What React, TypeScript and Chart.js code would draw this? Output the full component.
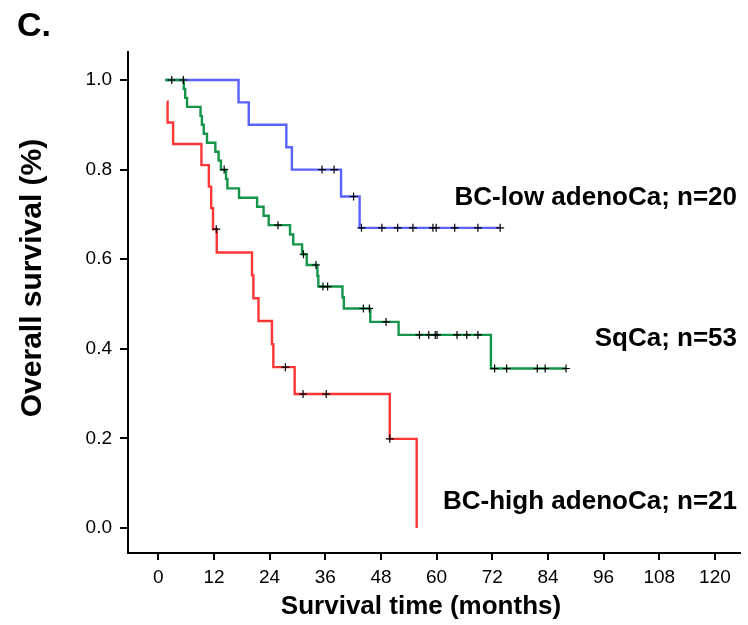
import React, { useEffect, useRef } from "react";
import { Chart, registerables } from "chart.js";

Chart.register(...registerables);

// ---- data (months, survival proportion) ----
const blueTimes = [1.5, 17.3, 19.5, 27.6, 28.8, 39.4, 43.4, 73.7];
const blueSurv = [1.0, 0.95, 0.9, 0.85, 0.8, 0.74, 0.67, 0.67];
const blueCensor = [2.9, 35.3, 37.9, 42.1, 43.8, 48.2, 51.6, 54.9, 59.2, 59.9, 63.9, 68.9, 73.7];

const greenTimes = [1.5, 5.5, 5.8, 6.2, 9.1, 9.4, 9.8, 10.5, 12.3, 13.0, 13.5, 14.6, 14.9, 17.4, 21.3, 22.7, 23.8, 28.4, 29.1, 31.0, 32.0, 34.3, 34.5, 39.7, 40.0, 45.7, 51.8, 71.7, 87.9];
const greenSurv = [1.0, 0.98, 0.96, 0.94, 0.92, 0.9, 0.88, 0.86, 0.84, 0.82, 0.8, 0.779, 0.758, 0.737, 0.717, 0.697, 0.676, 0.655, 0.633, 0.611, 0.587, 0.563, 0.539, 0.515, 0.49, 0.46, 0.431, 0.356, 0.356];
const greenCensor = [5.4, 14.2, 25.8, 31.3, 34.0, 35.5, 36.5, 44.2, 45.5, 49.1, 56.3, 58.3, 59.7, 60.1, 64.4, 66.5, 68.9, 72.5, 75.1, 81.7, 83.4, 87.9];

const redTimes = [1.9, 2.0, 3.2, 9.3, 10.9, 11.4, 11.8, 12.6, 20.2, 20.5, 21.6, 24.5, 24.8, 29.4, 49.9, 55.7];
const redSurv = [0.952, 0.905, 0.857, 0.81, 0.762, 0.714, 0.667, 0.615, 0.564, 0.513, 0.462, 0.41, 0.359, 0.299, 0.199, 0.0];
const redCensor = [12.5, 27.4, 31.2, 36.2, 49.9];

const xTickValues = [0, 12, 24, 36, 48, 60, 72, 84, 96, 108, 120];
const yTickValues = [0, 0.2, 0.4, 0.6, 0.8, 1.0];

const seriesLabels = ["BC-low adenoCa; n=20", "SqCa; n=53", "BC-high adenoCa; n=21"];
const panelLabel = "C.";
const xTitle = "Survival time (months)";
const yTitle = "Overall survival (%)";

const FONT = "'Liberation Sans', Arial, Helvetica, sans-serif";

function steps(times: number[], surv: number[]) {
  return times.map((t, i) => ({ x: t, y: surv[i] }));
}
function survAt(times: number[], surv: number[], t: number) {
  let v = surv[0];
  for (let i = 0; i < times.length; i++) if (times[i] <= t) v = surv[i];
  return v;
}
function censorPts(times: number[], surv: number[], c: number[]) {
  return c.map((t) => ({ x: t, y: survAt(times, surv, t) }));
}

const textPlugin = {
  id: "textPlugin",
  afterDraw(chart: any) {
    const ctx = chart.ctx;
    ctx.save();
    ctx.fillStyle = "#000";
    ctx.font = `bold 34px ${FONT}`;
    ctx.textAlign = "left";
    ctx.textBaseline = "alphabetic";
    ctx.fillText(panelLabel, 17, 36);

    ctx.font = `bold 26px ${FONT}`;
    ctx.textAlign = "right";
    ctx.fillText(seriesLabels[0], 737, 205);
    ctx.fillText(seriesLabels[1], 737, 346);
    ctx.fillText(seriesLabels[2], 737, 509);

    ctx.textAlign = "center";
    ctx.fillText(xTitle, 421, 614);

    ctx.font = `bold 30px ${FONT}`;
    ctx.translate(33, 278);
    ctx.rotate(-Math.PI / 2);
    ctx.textBaseline = "middle";
    ctx.fillText(yTitle, 0, 0);
    ctx.restore();
  },
};

export default function App() {
  const ref = useRef<HTMLCanvasElement | null>(null);
  useEffect(() => {
    if (!ref.current) return;
    const lineDs = (label: string, data: any[], color: string, order: number) => ({
      type: "line" as const,
      label,
      data,
      borderColor: color,
      backgroundColor: color,
      borderWidth: 2.4,
      stepped: true,
      pointRadius: 0,
      fill: false,
      order,
    });
    const censorDs = (label: string, data: any[]) => ({
      type: "scatter" as const,
      label,
      data,
      showLine: false,
      pointStyle: "cross",
      pointRadius: 4,
      borderColor: "#000",
      backgroundColor: "#000",
      borderWidth: 1.2,
      order: 0,
    });
    const chart = new Chart(ref.current, {
      type: "line",
      data: {
        datasets: [
          lineDs("blue", steps(blueTimes, blueSurv), "#5a62ff", 3),
          lineDs("green", steps(greenTimes, greenSurv), "#15954a", 2),
          lineDs("red", steps(redTimes, redSurv), "#ff3636", 1),
          censorDs("blueC", censorPts(blueTimes, blueSurv, blueCensor)),
          censorDs("greenC", censorPts(greenTimes, greenSurv, greenCensor)),
          censorDs("redC", censorPts(redTimes, redSurv, redCensor)),
        ] as any,
      },
      options: {
        responsive: false,
        devicePixelRatio: 1,
        animation: false,
        layout: { padding: { top: 52, right: 8, left: 0, bottom: 0 } },
        plugins: { legend: { display: false }, tooltip: { enabled: false } },
        scales: {
          x: {
            type: "linear",
            min: -6.53,
            max: 125.4,
            afterBuildTicks: (s: any) => {
              s.ticks = xTickValues.map((v) => ({ value: v }));
            },
            afterFit: (s: any) => {
              s.height = 72;
            },
            ticks: {
              font: { size: 19, family: FONT },
              color: "#000",
              padding: 6,
              maxRotation: 0,
              autoSkip: false,
              callback: (v: any) => String(v),
            },
            grid: { display: true, drawOnChartArea: false, drawTicks: true, tickLength: 7, color: "#000", lineWidth: 2 },
            border: { display: true, color: "#000", width: 2 },
          },
          y: {
            type: "linear",
            min: -0.0558,
            max: 1.0625,
            afterBuildTicks: (s: any) => {
              s.ticks = yTickValues.map((v) => ({ value: v }));
            },
            afterFit: (s: any) => {
              s.width = 128;
            },
            ticks: {
              font: { size: 19, family: FONT },
              color: "#000",
              padding: 8,
              autoSkip: false,
              callback: (v: any) => Number(v).toFixed(1),
            },
            grid: { display: true, drawOnChartArea: false, drawTicks: true, tickLength: 8, color: "#000", lineWidth: 2 },
            border: { display: true, color: "#000", width: 2 },
          },
        },
      } as any,
      plugins: [textPlugin],
    });
    return () => chart.destroy();
  }, []);
  return (
    <div style={{ position: "fixed", left: 0, top: 0, width: 748, height: 625, background: "#fff" }}>
      <canvas ref={ref} width={748} height={625} style={{ display: "block" }} />
    </div>
  );
}
